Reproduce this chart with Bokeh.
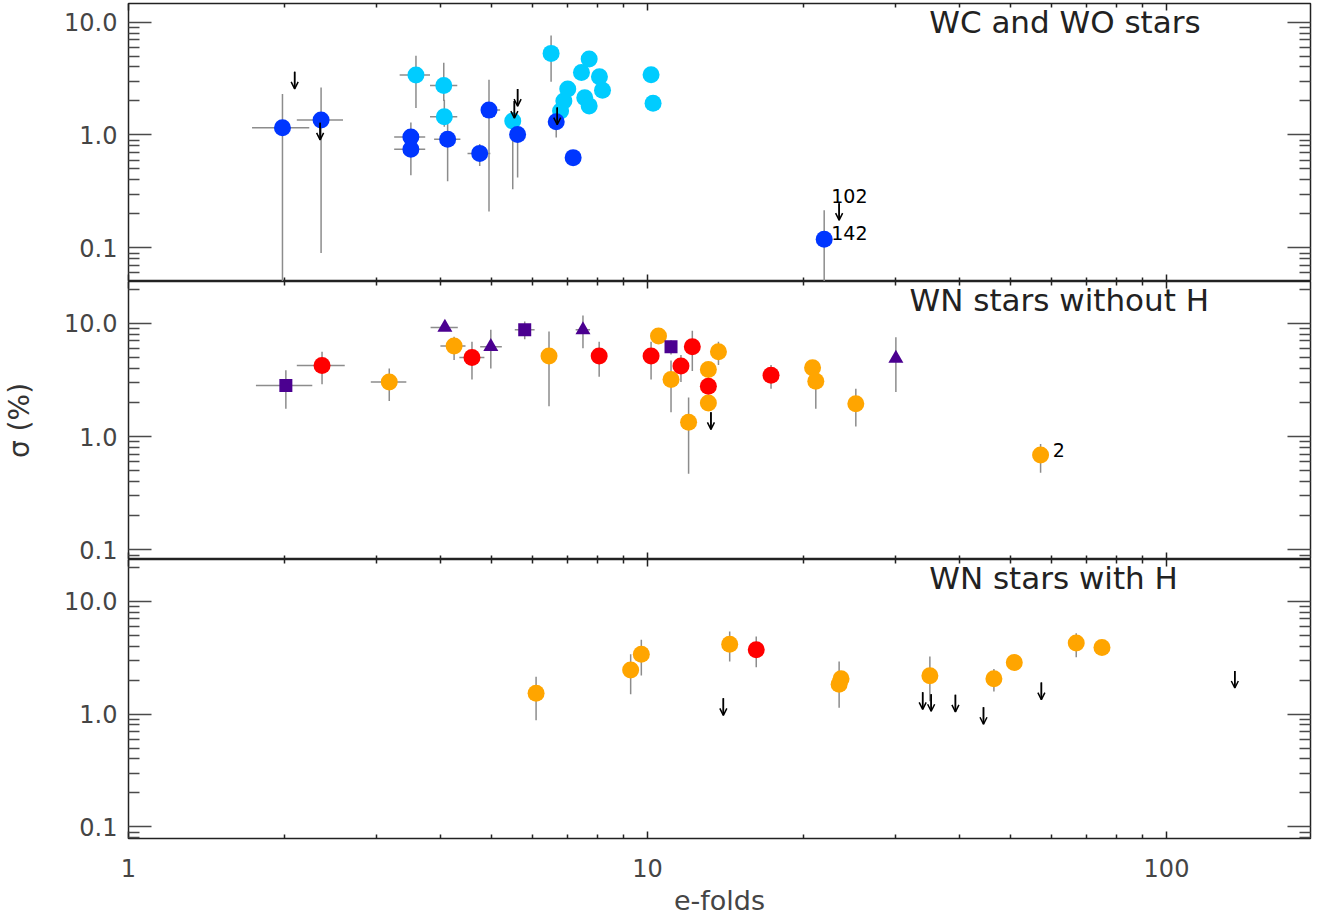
import math
from bokeh.plotting import figure
from bokeh.layouts import column
from bokeh.models import (Range1d, LogAxis, FixedTicker, CustomJSTickFormatter,
                          ColumnDataSource, Arrow, OpenHead)
from bokeh.core.properties import value
from bokeh.embed import file_html
from bokeh.resources import INLINE

nan = float("nan")

# ---------------- axes ----------------
x_major = [1, 10, 100]
x_minor = [2, 3, 4, 5, 6, 7, 8, 9, 20, 30, 40, 50, 60, 70, 80, 90, 200]
y_major = [0.1, 1, 10]
y_minor = [0.04, 0.05, 0.06, 0.07, 0.08, 0.09, 0.2, 0.3, 0.4, 0.5, 0.6, 0.7, 0.8, 0.9,
           2, 3, 4, 5, 6, 7, 8, 9, 20, 30]
x_label = "e-folds"
y_label = "σ (%)"

# ---------------- panel 1 : WC and WO stars ----------------
p1_title = "WC and WO stars"
wcb_x = [1.98, 2.35, 3.50, 3.50, 4.12, 4.75, 4.95, 5.62, 6.67, 7.19, 21.9]
wcb_y = [1.16, 1.36, 0.96, 0.746, 0.916, 0.687, 1.66, 1.01, 1.31, 0.63, 0.119]
wcb_ylo = [0.03, 0.09, 0.80, 0.44, 0.39, 0.53, 0.21, 0.42, 0.95, nan, 0.03]
wcb_yhi = [2.31, 2.63, 1.29, 0.95, 1.30, 0.83, 3.08, 1.35, 1.75, nan, 0.215]
wcb_xlo = [1.73, 2.11, 3.25, 3.25, 3.88, 4.50, 4.80, nan, nan, nan, nan]
wcb_xhi = [2.23, 2.59, 3.73, 3.73, 4.36, 4.98, 5.20, nan, nan, nan, nan]
wcc_x = [3.58, 4.05, 4.06, 5.50, 6.52, 6.80, 6.90, 7.02, 7.46, 7.72, 7.57, 7.72, 8.08, 8.19, 10.16, 10.25]
wcc_y = [3.40, 2.74, 1.45, 1.33, 5.28, 1.63, 2.00, 2.55, 3.58, 4.71, 2.14, 1.81, 3.28, 2.49, 3.41, 1.91]
wcc_ylo = [1.73, 2.00, 1.18, 0.33, 2.96, nan, nan, nan, nan, nan, nan, 1.25, nan, 1.35, nan, 1.31]
wcc_yhi = [5.03, 4.37, 2.05, 1.60, 7.59, nan, nan, nan, nan, 6.10, nan, nan, 4.77, nan, 4.39, nan]
wcc_xlo = [3.33, 3.81, 3.81] + [nan] * 13
wcc_xhi = [3.81, 4.30, 4.30] + [nan] * 13
wc_lim_x = [2.09, 2.34, 5.54, 5.62, 6.70, 23.4]
wc_lim_y = [3.63, 1.28, 2.00, 2.55, 1.75, 0.249]
wc_lab_x = [22.6, 22.6]
wc_lab_y = [0.287, 0.135]
wc_lab_t = ["102", "142"]

# ---------------- panel 2 : WN stars without H ----------------
p2_title = "WN stars without H"
wn_sq_x = [2.01, 5.80, 11.1]
wn_sq_y = [2.82, 8.76, 6.22]
wn_sq_ylo = [1.76, 7.24, 5.30]
wn_sq_yhi = [3.86, 10.38, 7.10]
wn_sq_xlo = [1.76, 5.55, nan]
wn_sq_xhi = [2.26, 6.06, nan]

wn_tri_x = [4.07, 4.99, 7.51, 30.1]
wn_tri_y = [9.18, 6.22, 8.76, 4.90]
wn_tri_ylo = [nan, 4.00, 6.02, 2.48]
wn_tri_yhi = [nan, 8.76, 11.7, 7.53]
wn_tri_xlo = [3.82, 4.76, 7.27, nan]
wn_tri_xhi = [4.31, 5.24, 7.75, nan]

wn_red_x = [2.36, 4.59, 8.07, 10.16, 11.6, 12.2, 13.1, 17.3]
wn_red_y = [4.25, 5.00, 5.14, 5.14, 4.19, 6.22, 2.78, 3.48]
wn_red_ylo = [2.90, 3.19, 3.37, 3.19, 3.04, 3.80, nan, 2.65]
wn_red_yhi = [5.61, 6.89, 6.89, 6.89, 5.25, 8.60, nan, 4.28]
wn_red_xlo = [2.11, 4.34, nan, nan, nan, nan, nan, nan]
wn_red_xhi = [2.61, 4.85, nan, nan, nan, nan, nan, nan]

wn_or_x = [3.18, 4.24, 6.46, 10.5, 11.1, 12.0, 13.1, 13.1, 13.7, 20.8, 21.1, 25.2, 57.2]
wn_or_y = [3.04, 6.31, 5.14, 7.74, 3.19, 1.34, 3.92, 1.98, 5.61, 4.05, 3.08, 1.95, 0.687]
wn_or_ylo = [2.06, 4.74, 1.85, 6.60, 1.64, 0.47, nan, 1.13, 4.28, nan, 1.76, 1.23, 0.48]
wn_or_yhi = [4.00, 7.60, 8.45, 8.90, 4.70, 2.21, 5.07, nan, 6.89, 5.00, 4.43, 2.65, 0.86]
wn_or_xlo = [2.93, 3.99] + [nan] * 11
wn_or_xhi = [3.43, 4.46] + [nan] * 11

wn_lim_x = [13.25]
wn_lim_y = [1.64]
wn_lab_x = [60.4]
wn_lab_y = [0.762]
wn_lab_t = ["2"]

# ---------------- panel 3 : WN stars with H ----------------
p3_title = "WN stars with H"
wnh_or_x = [6.10, 9.28, 9.73, 14.4, 23.4, 23.6, 35.0, 46.5, 50.9, 67.0, 75.1]
wnh_or_y = [1.53, 2.46, 3.39, 4.16, 1.84, 2.05, 2.18, 2.05, 2.86, 4.25, 3.88]
wnh_or_ylo = [0.88, 1.50, 2.19, 2.92, 1.14, nan, 1.30, 1.58, nan, 3.19, 3.10]
wnh_or_yhi = [2.14, 3.39, 4.54, 5.39, 2.92, nan, 3.23, 2.51, nan, 5.20, nan]
wnh_red_x = [16.2]
wnh_red_y = [3.71]
wnh_red_ylo = [2.60]
wnh_red_yhi = [4.86]
wnh_lim_x = [14.0, 33.9, 35.2, 39.2, 44.4, 57.4, 135.4]
wnh_lim_y = [1.38, 1.56, 1.50, 1.48, 1.15, 1.90, 2.41]

# ---------------- styling ----------------
FONT = "DejaVu Sans"
BLUE = "#0036ff"
CYAN = "#00ccff"
RED = "#ff0000"
ORANGE = "#ffa500"
PURPLE = "#4b0090"
ERR = "#8c8c8c"
DEC = 112.5                       # pixels per decade on the y axes
ARROW_RATIO = 10 ** (17 / DEC)    # upper-limit arrows ~17 px long

xr = Range1d(1.0, 10 ** (1182 / 519))


def tick_style(ax, major_in, minor_in, color):
    ax.major_tick_in = major_in
    ax.major_tick_out = 0
    ax.minor_tick_in = minor_in
    ax.minor_tick_out = 0
    ax.major_tick_line_color = color
    ax.minor_tick_line_color = color
    ax.major_tick_line_width = 1.5
    ax.minor_tick_line_width = 1.5
    ax.axis_line_color = None


def hide_labels(ax):
    ax.major_label_standoff = 0
    ax.major_label_text_font_size = "1px"
    ax.major_label_text_alpha = 0


def add_axes(p, bottom_labels=False, ylab=None):
    la = LogAxis(ticker=FixedTicker(ticks=y_major, minor_ticks=y_minor),
                 formatter=CustomJSTickFormatter(code="return tick.toFixed(1);"))
    tick_style(la, 23, 11, "#4a4a4a")
    la.major_label_standoff = 11
    la.major_label_text_font = FONT
    la.major_label_text_font_size = "24px"
    la.major_label_text_color = "#454545"
    if ylab:
        la.axis_label = ylab
        la.axis_label_text_font = FONT
        la.axis_label_text_font_size = "28px"
        la.axis_label_text_font_style = "normal"
        la.axis_label_text_color = "#333333"
        la.axis_label_standoff = 25
    p.add_layout(la, "left")

    ra = LogAxis(ticker=FixedTicker(ticks=y_major, minor_ticks=y_minor))
    tick_style(ra, 23, 11, "#4a4a4a")
    hide_labels(ra)
    p.add_layout(ra, "right")

    for loc in ("above", "below"):
        ax = LogAxis(ticker=FixedTicker(ticks=x_major, minor_ticks=x_minor),
                     formatter=CustomJSTickFormatter(code="return tick.toFixed(0);"))
        tick_style(ax, 7, 4, "#222222")
        if loc == "below" and bottom_labels:
            ax.major_label_standoff = 20
            ax.major_label_text_font = FONT
            ax.major_label_text_font_size = "24px"
            ax.major_label_text_color = "#454545"
            ax.axis_label = x_label
            ax.axis_label_text_font = FONT
            ax.axis_label_text_font_size = "27px"
            ax.axis_label_text_font_style = "normal"
            ax.axis_label_text_color = "#454545"
            ax.axis_label_standoff = 5
        else:
            hide_labels(ax)
        p.add_layout(ax, loc)


def make_fig(one_px, top_px, bot_px, height, bt, bb):
    # y range from the frame's pixel rows and the row of 1.0
    ymax = 10 ** ((one_px - top_px) / DEC)
    ymin = 10 ** (-(bot_px - one_px) / DEC)
    p = figure(width=1320, height=height, x_axis_type="log", y_axis_type="log",
               x_range=xr, y_range=Range1d(ymin, ymax),
               x_axis_location=None, y_axis_location=None,
               toolbar_location=None, output_backend="svg",
               min_border_left=128, min_border_right=10,
               min_border_top=bt, min_border_bottom=bb)
    p.grid.grid_line_color = None
    p.outline_line_color = "#222222"
    p.outline_line_width = 1.5
    return p


def errbars(p, xs, ys, ylo, yhi, xlo=None, xhi=None):
    vx, vy0, vy1 = [], [], []
    for x, a, b in zip(xs, ylo, yhi):
        if not (math.isnan(a) or math.isnan(b)):
            vx.append(x); vy0.append(a); vy1.append(b)
    p.segment(x0=vx, y0=vy0, x1=vx, y1=vy1, line_color=ERR, line_width=1.5)
    if xlo is not None:
        hy, hx0, hx1 = [], [], []
        for y, a, b in zip(ys, xlo, xhi):
            if not (math.isnan(a) or math.isnan(b)):
                hy.append(y); hx0.append(a); hx1.append(b)
        p.segment(x0=hx0, y0=hy, x1=hx1, y1=hy, line_color=ERR, line_width=1.5)


def limits(p, xs, ys):
    tips = [v / ARROW_RATIO for v in ys]
    p.segment(x0=xs, y0=ys, x1=xs, y1=tips, line_color="black", line_width=1.5)
    src = ColumnDataSource(dict(x=xs, y0=ys, y1=tips))
    p.add_layout(Arrow(end=OpenHead(size=7, line_width=1.5, line_color="black"),
                       x_start="x", y_start="y0", x_end="x", y_end="y1",
                       line_width=1.5, line_color="black", source=src))


def labels(p, xs, ys, ts):
    p.text(x=xs, y=ys, text=ts, text_font=value(FONT), text_font_size="19px",
           text_baseline="middle", text_align="left", text_color="black")


def title(p, x, y, t, size="31px"):
    p.text(x=[x], y=[y], text=[t], text_font=value(FONT), text_font_size=size,
           text_baseline="middle", text_align="left", text_color="#222222")


# ---------------- panel 1 ----------------
p1 = make_fig(134, 3, 280, 281, 3, 0)
add_axes(p1)
errbars(p1, wcc_x, wcc_y, wcc_ylo, wcc_yhi, wcc_xlo, wcc_xhi)
errbars(p1, wcb_x, wcb_y, wcb_ylo, wcb_yhi, wcb_xlo, wcb_xhi)
p1.scatter(wcc_x, wcc_y, marker="circle", size=17, fill_color=CYAN, line_color=None)
p1.scatter(wcb_x, wcb_y, marker="circle", size=17, fill_color=BLUE, line_color=None)
limits(p1, wc_lim_x, wc_lim_y)
labels(p1, wc_lab_x, wc_lab_y, wc_lab_t)
title(p1, 34.9, 10.1, p1_title)

# ---------------- panel 2 ----------------
p2 = make_fig(436, 282, 558, 278, 0, 0)
add_axes(p2, ylab=y_label)
errbars(p2, wn_or_x, wn_or_y, wn_or_ylo, wn_or_yhi, wn_or_xlo, wn_or_xhi)
errbars(p2, wn_red_x, wn_red_y, wn_red_ylo, wn_red_yhi, wn_red_xlo, wn_red_xhi)
errbars(p2, wn_sq_x, wn_sq_y, wn_sq_ylo, wn_sq_yhi, wn_sq_xlo, wn_sq_xhi)
errbars(p2, wn_tri_x, wn_tri_y, wn_tri_ylo, wn_tri_yhi, wn_tri_xlo, wn_tri_xhi)
p2.scatter(wn_or_x, wn_or_y, marker="circle", size=17, fill_color=ORANGE, line_color=None)
p2.scatter(wn_red_x, wn_red_y, marker="circle", size=17, fill_color=RED, line_color=None)
p2.scatter(wn_sq_x, wn_sq_y, marker="square", size=13, fill_color=PURPLE, line_color=None)
p2.scatter(wn_tri_x, wn_tri_y, marker="triangle", size=15, fill_color=PURPLE, line_color=None)
limits(p2, wn_lim_x, wn_lim_y)
labels(p2, wn_lab_x, wn_lab_y, wn_lab_t)
title(p2, 31.98, 16.18, p2_title)

# ---------------- panel 3 ----------------
p3 = make_fig(714, 560, 838, 1 + 278 + 81, 0, 81)
add_axes(p3, bottom_labels=True)
errbars(p3, wnh_or_x, wnh_or_y, wnh_or_ylo, wnh_or_yhi)
errbars(p3, wnh_red_x, wnh_red_y, wnh_red_ylo, wnh_red_yhi)
p3.scatter(wnh_or_x, wnh_or_y, marker="circle", size=17, fill_color=ORANGE, line_color=None)
p3.scatter(wnh_red_x, wnh_red_y, marker="circle", size=17, fill_color=RED, line_color=None)
limits(p3, wnh_lim_x, wnh_lim_y)
title(p3, 34.9, 16.0, p3_title)

layout = column(p1, p2, p3)
open("out.html", "w").write(file_html(layout, INLINE))
